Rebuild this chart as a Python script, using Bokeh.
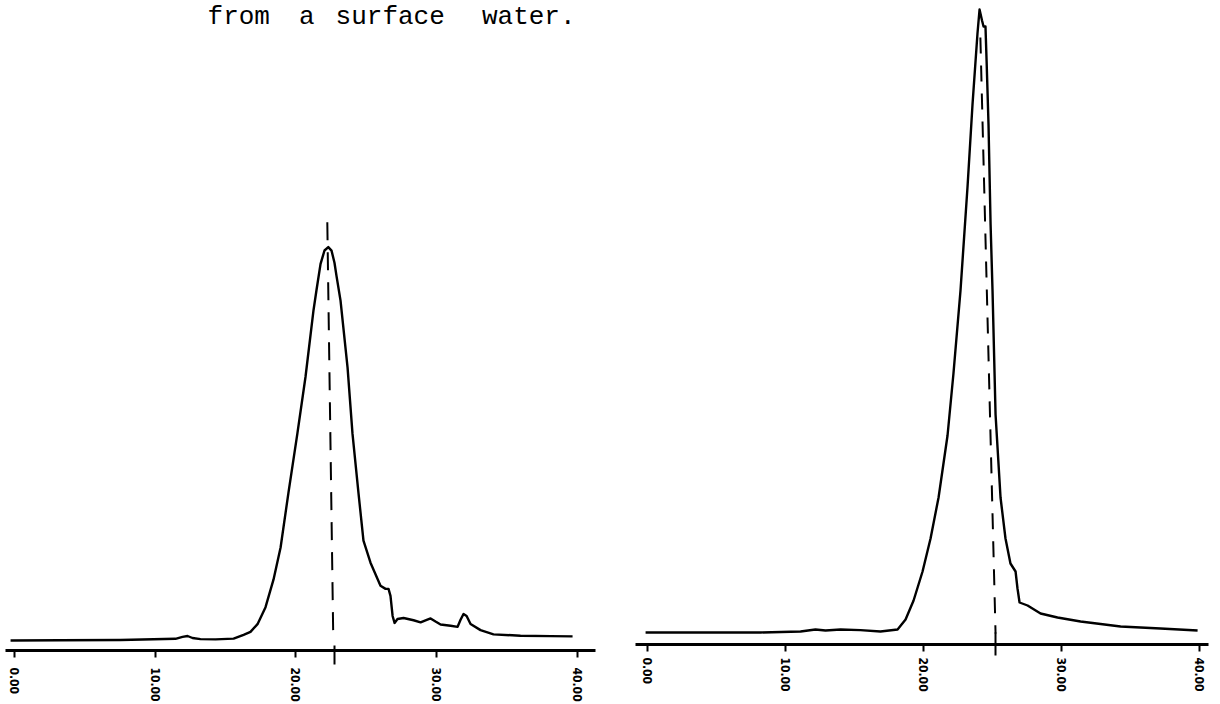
import re
from bokeh.plotting import figure
from bokeh.layouts import row, column
from bokeh.models import Range1d, FixedTicker, PrintfTickFormatter
from bokeh.core.properties import value
from bokeh.embed import file_html
from bokeh.resources import INLINE

# ---------------- data ----------------
title_text = "from a surface water."
tick_values = [0, 10, 20, 30, 40]

# left chromatogram: retention time (min) vs detector response
left_time = [-0.28, 3.27, 7.53, 11.44, 11.94, 12.30, 12.65, 13.22, 14.29, 15.57,
             16.28, 16.77, 17.27, 17.84, 18.41, 18.91, 19.47, 20.11, 20.68, 21.25,
             21.46, 21.75, 22.03, 22.30, 22.53, 22.74, 22.88, 23.17, 23.67, 24.02,
             24.45, 24.80, 25.30, 26.01, 26.37, 26.58, 26.72, 26.87, 27.01, 27.22,
             27.65, 28.36, 28.86, 29.21, 29.57, 29.92, 30.28, 30.99, 31.49, 31.70,
             31.91, 32.13, 32.41, 33.12, 34.04, 35.96, 38.10, 39.66]
left_signal = [2.50, 2.58, 2.63, 2.93, 3.40, 3.63, 3.13, 2.85, 2.78, 2.98,
               3.93, 4.65, 6.60, 10.85, 17.80, 25.80, 39.53, 54.50, 68.48, 85.20,
               90.20, 96.80, 100.15, 101.00, 100.13, 97.10, 93.85, 87.60, 70.83, 54.30,
               39.28, 27.50, 21.98, 16.20, 15.43, 15.43, 13.68, 8.65, 6.90, 7.90,
               8.13, 7.58, 7.05, 7.55, 8.03, 7.25, 6.50, 6.20, 5.93, 7.68,
               9.15, 8.65, 6.63, 5.10, 4.05, 3.70, 3.60, 3.53]

# right chromatogram
right_time = [-0.14, 3.84, 8.19, 11.09, 12.17, 12.90, 13.99, 15.43, 16.88, 18.12,
              18.70, 19.28, 19.93, 20.51, 21.09, 21.74, 22.17, 22.68, 23.19, 23.55,
              23.91, 24.06, 24.24, 24.35, 24.49, 24.57, 24.71, 24.86, 25.00, 25.22,
              25.58, 25.94, 26.30, 26.67, 26.81, 26.96, 27.54, 28.48, 29.71, 31.38,
              34.28, 37.17, 39.86]
right_signal = [3.00, 3.00, 3.00, 3.25, 3.75, 3.50, 3.75, 3.60, 3.25, 3.75,
                6.25, 11.00, 18.25, 26.50, 36.75, 52.25, 67.75, 88.50, 114.50, 135.00,
                152.75, 158.75, 156.00, 154.50, 154.50, 146.00, 130.00, 105.00, 88.50, 57.50,
                36.75, 26.50, 20.25, 18.25, 14.00, 10.50, 9.75, 7.75, 6.75, 5.75,
                4.50, 4.00, 3.50]

# dashed retention-time markers (slightly skewed in the scan)
left_marker_time = [22.23, 22.65]
left_marker_signal = [107.25, 4.0]
left_marker_tick = 22.74
right_marker_time = [24.12, 25.22]
right_marker_signal = [151.75, 2.75]
right_marker_tick = 25.22


def make_panel(width, xr, yr, border_l, border_r, border_b, t, s, mt, ms, mtick,
               dash, tick_in, tick_out, standoff):
    p = figure(width=width, height=704, output_backend="svg", toolbar_location=None,
               x_range=Range1d(*xr), y_range=Range1d(*yr),
               x_axis_location="below", y_axis_location=None,
               min_border_left=border_l, min_border_right=border_r,
               min_border_top=0, min_border_bottom=border_b)
    p.xgrid.visible = False
    p.ygrid.visible = False
    p.outline_line_color = None
    p.background_fill_color = "white"
    p.border_fill_color = "white"

    p.line(t, s, line_color="black", line_width=2.4, line_join="round")
    p.line(mt, ms, line_color="black", line_width=2, line_dash=dash)

    ax = p.xaxis[0]
    ax.ticker = FixedTicker(ticks=tick_values, minor_ticks=[mtick])
    ax.formatter = PrintfTickFormatter(format="%.2f")
    ax.major_label_orientation = "vertical"
    ax.axis_line_color = "black"
    ax.axis_line_width = 3
    ax.major_tick_in = 0
    ax.major_tick_out = 7
    ax.major_tick_line_width = 2
    ax.minor_tick_in = tick_in
    ax.minor_tick_out = tick_out
    ax.minor_tick_line_width = 2
    ax.major_label_text_font = "DejaVu Sans Condensed"
    ax.major_label_text_font_style = "bold"
    ax.major_label_text_font_size = "12px"
    ax.major_label_text_color = "black"
    ax.major_label_standoff = standoff
    return p


left = make_panel(612, (-0.64, 41.29), (0, 162.75), 5, 17, 53,
                  left_time, left_signal, left_marker_time, left_marker_signal,
                  left_marker_tick, "18 12", 5, 14, 3)
right = make_panel(608, (-0.87, 40.65), (0, 161.0), 23, 12, 60,
                   right_time, right_signal, right_marker_time, right_marker_signal,
                   right_marker_tick, "16 12", 12, 11, 2)

# title, typed on a typewriter grid
title_x0 = 13.72
title_pitch = 1.30
title_y = 158.6
words = [(m.start(), m.group()) for m in re.finditer(r"\S+", title_text)]
left.text(x=[title_x0 + i * title_pitch for i, _ in words],
          y=[title_y] * len(words),
          text=[w for _, w in words],
          text_font=value("Liberation Mono"), text_font_size="26px",
          text_color="black", text_align="left", text_baseline="alphabetic")

layout = row(column(left), column(right))
open("out.html", "w").write(file_html(layout, INLINE))
